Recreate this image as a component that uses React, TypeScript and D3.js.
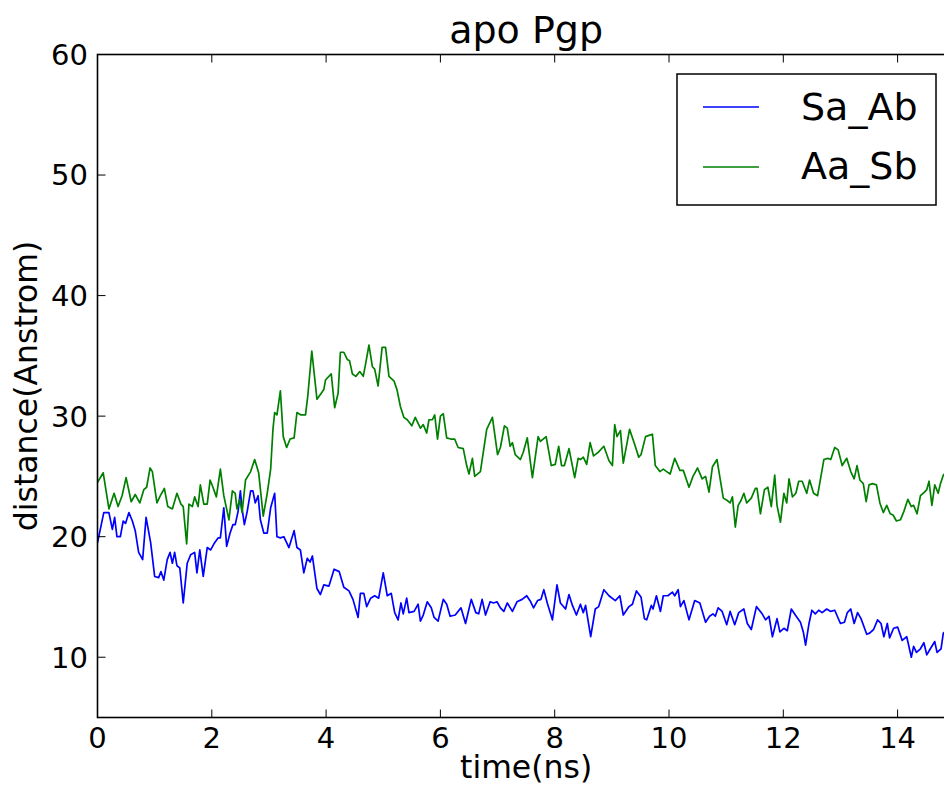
import React from "react";
import * as d3 from "d3";

// Time (ns) and distance values
const blueT = [0.00,0.11,0.20,0.26,0.30,0.34,0.40,0.45,0.49,0.55,0.61,0.66,0.72,0.79,0.85,0.93,1.00,1.07,1.11,1.16,1.22,1.27,1.31,1.35,1.39,1.44,1.50,1.57,1.63,1.70,1.74,1.79,1.85,1.92,1.98,2.05,2.11,2.15,2.21,2.26,2.32,2.37,2.41,2.46,2.50,2.53,2.57,2.62,2.68,2.72,2.76,2.81,2.85,2.91,2.97,3.03,3.10,3.14,3.20,3.26,3.35,3.44,3.49,3.55,3.61,3.67,3.72,3.76,3.84,3.90,3.96,4.05,4.14,4.23,4.31,4.40,4.47,4.56,4.60,4.66,4.71,4.78,4.85,4.92,5.00,5.07,5.14,5.20,5.26,5.31,5.35,5.41,5.45,5.54,5.61,5.65,5.70,5.77,5.84,5.89,5.96,6.05,6.11,6.17,6.26,6.36,6.44,6.54,6.62,6.67,6.73,6.79,6.87,6.93,6.99,7.05,7.11,7.17,7.26,7.34,7.43,7.51,7.58,7.63,7.70,7.76,7.81,7.87,7.96,8.04,8.10,8.19,8.25,8.31,8.38,8.45,8.50,8.54,8.63,8.71,8.77,8.86,8.95,9.06,9.14,9.20,9.30,9.36,9.43,9.51,9.57,9.61,9.69,9.72,9.78,9.85,9.90,9.98,10.06,10.10,10.16,10.20,10.26,10.35,10.45,10.54,10.64,10.71,10.77,10.81,10.86,10.93,11.01,11.07,11.15,11.22,11.31,11.37,11.44,11.53,11.63,11.69,11.75,11.81,11.89,11.94,12.01,12.07,12.14,12.21,12.30,12.35,12.39,12.45,12.50,12.56,12.62,12.68,12.76,12.83,12.90,13.00,13.07,13.12,13.18,13.24,13.30,13.36,13.46,13.51,13.58,13.65,13.71,13.76,13.82,13.86,13.93,14.00,14.08,14.16,14.24,14.28,14.33,14.40,14.46,14.51,14.56,14.65,14.69,14.76,14.80,14.86,14.92];
const blueV = [19.5,22.0,22.0,20.6,21.6,20.0,20.0,21.3,21.1,22.0,21.3,20.5,18.7,18.1,21.6,19.5,16.7,16.6,17.1,16.4,18.1,18.7,17.8,18.7,17.6,17.4,14.5,17.8,18.5,18.7,17.0,18.9,16.7,19.1,18.9,19.5,19.9,19.9,22.4,19.2,20.3,21.0,21.0,22.1,23.8,22.3,21.0,22.1,23.8,23.8,22.8,23.4,21.4,20.3,20.3,22.4,23.6,20.0,19.9,20.0,19.1,20.5,19.1,18.9,17.0,18.2,17.9,18.4,15.7,15.2,16.0,15.9,17.3,17.1,15.8,15.5,14.8,13.3,15.3,15.3,14.2,14.9,15.1,14.9,17.0,15.1,15.3,13.7,13.1,14.5,13.6,14.9,13.7,13.8,14.4,13.0,13.5,14.6,14.1,13.3,13.0,14.8,14.4,13.4,13.5,14.1,12.8,14.8,13.7,13.6,14.8,13.5,14.6,14.5,14.6,14.1,13.8,14.5,13.8,14.6,14.8,15.1,14.6,14.1,14.7,14.8,15.6,14.5,13.1,16.0,14.5,14.0,15.2,14.3,13.5,14.4,13.7,14.3,11.7,14.0,14.2,15.6,15.1,14.7,15.1,13.5,14.2,14.4,15.5,15.0,13.2,13.1,14.3,14.0,15.1,13.8,15.1,15.1,15.4,15.1,15.6,14.2,14.7,13.1,14.7,14.5,12.9,13.4,13.6,13.4,14.1,13.8,12.7,13.8,12.7,13.7,14.0,12.8,12.3,14.2,13.6,13.1,13.4,11.7,13.2,12.1,12.4,12.2,14.0,13.5,12.9,12.1,11.0,12.8,13.9,13.6,13.9,13.7,14.0,13.8,13.9,12.8,12.9,13.7,14.0,12.8,13.7,13.2,11.9,12.0,12.3,13.1,12.8,11.7,12.8,11.6,12.4,12.5,11.4,11.7,10.0,10.9,10.4,10.7,11.2,10.2,10.6,11.3,10.4,10.7,12.0,12.2,12.0];

const greenT = [0.00,0.10,0.20,0.29,0.36,0.43,0.50,0.59,0.66,0.74,0.81,0.86,0.92,0.96,1.04,1.10,1.17,1.23,1.31,1.39,1.46,1.50,1.56,1.60,1.66,1.70,1.76,1.80,1.86,1.92,1.97,2.02,2.08,2.15,2.21,2.30,2.36,2.41,2.44,2.49,2.53,2.59,2.68,2.75,2.82,2.90,2.97,3.03,3.07,3.10,3.14,3.20,3.25,3.31,3.37,3.44,3.49,3.56,3.64,3.68,3.75,3.84,3.90,3.96,3.99,4.09,4.15,4.21,4.25,4.31,4.37,4.41,4.46,4.52,4.59,4.65,4.69,4.75,4.81,4.85,4.91,4.98,5.04,5.10,5.19,5.24,5.30,5.36,5.42,5.50,5.56,5.65,5.70,5.76,5.80,5.86,5.90,5.95,6.00,6.05,6.11,6.18,6.25,6.31,6.40,6.46,6.50,6.56,6.60,6.70,6.81,6.91,7.00,7.05,7.12,7.17,7.22,7.26,7.31,7.40,7.45,7.52,7.61,7.71,7.75,7.85,7.94,8.01,8.07,8.12,8.17,8.25,8.35,8.41,8.45,8.50,8.56,8.62,8.68,8.76,8.86,8.95,9.01,9.05,9.09,9.15,9.20,9.31,9.39,9.47,9.51,9.59,9.65,9.71,9.76,9.84,9.90,9.96,10.02,10.10,10.19,10.25,10.35,10.42,10.50,10.58,10.64,10.70,10.76,10.84,10.95,11.02,11.07,11.11,11.16,11.21,11.26,11.31,11.36,11.44,11.51,11.54,11.60,11.67,11.73,11.79,11.85,11.89,11.95,12.01,12.06,12.10,12.16,12.22,12.27,12.33,12.41,12.46,12.53,12.60,12.71,12.78,12.83,12.90,12.96,13.03,13.11,13.18,13.24,13.29,13.34,13.40,13.45,13.50,13.56,13.63,13.69,13.75,13.81,13.87,13.92,13.98,14.05,14.11,14.18,14.24,14.28,14.34,14.40,14.47,14.51,14.55,14.60,14.65,14.71,14.75,14.80,14.86,14.92];
const greenV = [24.5,25.3,22.3,23.6,22.5,23.4,24.9,22.9,23.5,22.8,23.9,24.1,25.7,25.4,22.8,23.4,24.0,22.5,22.3,23.6,22.7,22.5,19.4,22.7,22.5,23.3,22.5,24.3,22.7,22.7,24.7,24.1,23.3,25.6,23.4,21.4,23.8,23.6,22.3,23.1,22.0,24.7,25.4,26.4,25.3,21.7,23.6,25.6,28.9,30.3,30.1,32.1,28.3,27.4,28.1,28.2,30.3,30.1,30.1,31.7,35.4,31.4,31.8,32.2,33.0,33.5,30.7,31.9,35.3,35.3,34.7,34.6,33.5,33.3,33.7,33.3,34.3,35.9,34.1,33.9,32.5,35.7,35.7,33.3,32.9,32.2,30.8,29.9,29.7,29.2,29.9,29.0,29.3,28.6,29.7,29.7,30.1,28.1,30.0,30.2,28.2,28.1,28.1,27.4,27.3,25.9,25.2,26.5,25.0,25.4,28.9,29.9,26.8,27.4,29.2,29.0,27.5,27.8,26.8,26.4,27.0,28.2,24.9,28.3,27.9,28.3,25.9,26.0,27.5,25.9,25.9,27.3,24.9,26.5,26.4,26.6,26.0,27.8,26.7,27.0,27.5,26.3,25.9,29.3,28.3,28.8,26.1,28.9,27.8,26.6,26.8,28.3,28.4,28.5,25.9,25.4,25.6,25.4,25.2,26.5,25.5,25.5,24.1,25.0,25.7,24.8,25.0,23.7,25.8,26.4,23.2,23.0,22.8,23.3,20.8,22.6,23.0,23.6,22.8,23.2,24.0,24.0,21.9,23.9,24.1,22.5,25.1,22.6,21.2,23.6,22.8,24.8,23.3,23.6,24.6,24.6,23.6,24.7,23.6,23.4,26.4,26.5,26.4,27.4,27.2,25.9,26.5,25.4,24.8,25.9,24.7,24.4,22.9,24.3,24.4,24.3,22.8,22.0,22.6,21.9,21.8,21.3,21.4,22.1,23.1,22.5,22.6,21.9,23.4,23.7,23.9,24.6,22.6,24.3,23.6,24.4,25.1,25.4,25.0];

const seriesNames = ["Sa_Ab", "Aa_Sb"];
const seriesColors = ["#0000ff", "#008000"];
const xTicks = [0, 2, 4, 6, 8, 10, 12, 14];
const yTicks = [10, 20, 30, 40, 50, 60];
const xDomain = [0, 15];
const yDomain = [5, 60];

const W = 944, H = 787;
const FONT = "'DejaVu Sans', sans-serif";

export default function App() {
  const left = 97.5, top = 54.5, bottom = 717.5;
  const x = d3.scaleLinear().domain(xDomain).range([left, left + 57.15 * 15]);
  const y = d3.scaleLinear().domain(yDomain).range([bottom, top]);
  const right = x(xDomain[1]);
  const line = d3.line<[number, number]>().x(d => x(d[0])).y(d => y(d[1]));
  const blue: [number, number][] = blueT.map((t, i) => [t, blueV[i]]);
  const green: [number, number][] = greenT.map((t, i) => [t, greenV[i]]);
  const series = [blue, green];
  const tickLen = 8;
  const cx = (left + right) / 2;
  const cy = (top + bottom) / 2;
  return (
    <div style={{ position: "absolute", left: 0, top: 0 }}>
      <svg width={W} height={H} style={{ display: "block", background: "#fff" }} fontFamily={FONT}>
        <defs>
          <clipPath id="plotclip">
            <rect x={left} y={top} width={right - left} height={bottom - top} />
          </clipPath>
        </defs>
        <g clipPath="url(#plotclip)">
          {series.map((s, i) => (
            <path key={i} d={line(s) || ""} fill="none" stroke={seriesColors[i]} strokeWidth={1.7} strokeLinejoin="round" />
          ))}
        </g>
        {/* frame */}
        <rect x={left} y={top} width={right - left} height={bottom - top} fill="none" stroke="#000" strokeWidth={1.6} />
        {/* x ticks */}
        {xTicks.map(t => (
          <g key={"x" + t}>
            <line x1={x(t)} x2={x(t)} y1={bottom} y2={bottom - tickLen} stroke="#000" strokeWidth={1} />
            <line x1={x(t)} x2={x(t)} y1={top} y2={top + tickLen} stroke="#000" strokeWidth={1} />
            <text x={x(t)} y={748} textAnchor="middle" fontSize={29}>{t}</text>
          </g>
        ))}
        {yTicks.map(v => (
          <g key={"y" + v}>
            <line x1={left} x2={left + tickLen} y1={y(v)} y2={y(v)} stroke="#000" strokeWidth={1} />
            <line x1={right} x2={right - tickLen} y1={y(v)} y2={y(v)} stroke="#000" strokeWidth={1} />
            <text x={88} y={y(v)} dy="0.36em" textAnchor="end" fontSize={29}>{v}</text>
          </g>
        ))}
        <text x={cx} y={43} textAnchor="middle" fontSize={38}>apo Pgp</text>
        <text x={cx} y={778} textAnchor="middle" fontSize={31.5}>time(ns)</text>
        <text transform={`translate(37,${cy}) rotate(-90)`} textAnchor="middle" fontSize={31.5}>distance(Anstrom)</text>
        {/* legend */}
        <rect x={677} y={74} width={259} height={131} fill="#fff" stroke="#000" strokeWidth={1.5} />
        {seriesNames.map((n, i) => (
          <g key={n}>
            <line x1={703} x2={759} y1={107 + i * 60} y2={107 + i * 60} stroke={seriesColors[i]} strokeWidth={1.7} />
            <text x={801} y={120 + i * 59} fontSize={38}>{n}</text>
          </g>
        ))}
      </svg>
    </div>
  );
}
